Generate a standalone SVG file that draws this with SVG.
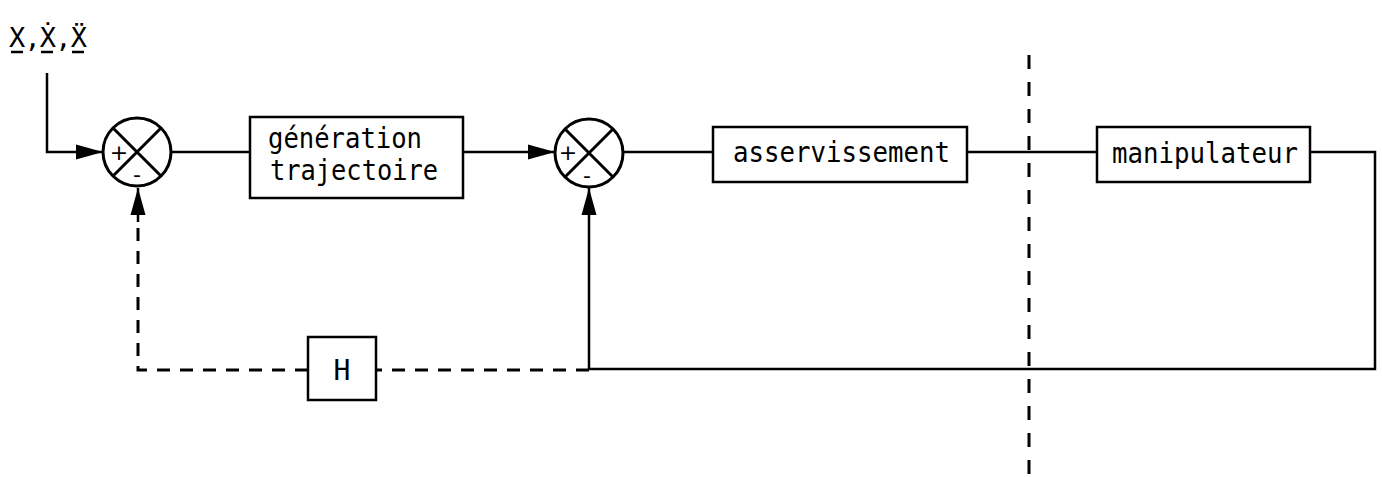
<svg xmlns="http://www.w3.org/2000/svg" width="1382" height="477" viewBox="0 0 1382 477">
<defs>
<marker id="arr" markerUnits="userSpaceOnUse" markerWidth="28" markerHeight="16" refX="27" refY="8" orient="auto">
<path d="M0,0.5 L27,8 L0,15.5 z" fill="#000"/>
</marker>
<style>
.box{fill:#fff;stroke:#000;stroke-width:2.5}
.sum{fill:#fff;stroke:#000;stroke-width:3}
.ln{fill:none;stroke:#000;stroke-width:2.5}
.dash{fill:none;stroke:#000;stroke-width:3;stroke-dasharray:13 10}
.lbl{font-family:"DejaVu Sans Mono","Liberation Mono",monospace;font-size:28px;fill:#000}
.xl{font-family:"DejaVu Sans Mono","Liberation Mono",monospace;font-size:27px;fill:#000}
.sg{font-family:"DejaVu Sans","Liberation Sans",sans-serif;font-size:22px;fill:#000;text-anchor:middle}
</style>
</defs>
<rect width="1382" height="477" fill="#fff"/>
<g id="input-label">
<text class="xl" x="9" y="47" textLength="78" lengthAdjust="spacing">X,Ẋ,Ẍ</text>
<path d="M11,52 H23 M41,52 H53 M72,52 H84" stroke="#000" stroke-width="2.5"/>
</g>
<g id="connectors">
<path class="ln" d="M47,73 V152 H103" marker-end="url(#arr)"/>
<path class="ln" d="M171,152 H250"/>
<path class="ln" d="M463,152 H555" marker-end="url(#arr)"/>
<path class="ln" d="M623,152 H713"/>
<path class="ln" d="M967,152 H1097"/>
<path class="ln" d="M1310,152 H1375 V369 H589 V188" marker-end="url(#arr)"/>
<path class="dash" d="M589,370 H376"/>
<path class="dash" d="M308,370 H138 V219"/>
<path class="ln" d="M138,222 V188" marker-end="url(#arr)"/>
<path class="dash" d="M1029,55 V477" style="stroke-dasharray:14 13"/>
</g>
<g id="sum1">
<circle class="sum" cx="137" cy="152" r="34"/>
<path class="ln" d="M113,128 L161,176 M161,128 L113,176" style="stroke-width:3"/>
<text class="sg" x="119" y="160">+</text>
<text class="sg" x="137" y="182">-</text>
</g>
<g id="generation">
<rect class="box" x="250" y="117" width="213" height="81"/>
<text class="lbl" x="268" y="148" textLength="154" lengthAdjust="spacingAndGlyphs">génération</text>
<text class="lbl" x="270" y="180" textLength="168" lengthAdjust="spacingAndGlyphs">trajectoire</text>
</g>
<g id="sum2">
<circle class="sum" cx="589" cy="153" r="34"/>
<path class="ln" d="M565,129 L613,177 M613,129 L565,177" style="stroke-width:3"/>
<text class="sg" x="568" y="160">+</text>
<text class="sg" x="587" y="183">-</text>
</g>
<g id="asservissement">
<rect class="box" x="713" y="127" width="254" height="55"/>
<text class="lbl" x="733" y="162" textLength="217" lengthAdjust="spacingAndGlyphs">asservissement</text>
</g>
<g id="manipulateur">
<rect class="box" x="1097" y="127" width="213" height="55"/>
<text class="lbl" x="1112" y="163" textLength="186" lengthAdjust="spacingAndGlyphs">manipulateur</text>
</g>
<g id="H">
<rect class="box" x="308" y="337" width="68" height="63"/>
<text class="lbl" x="342" y="380" text-anchor="middle">H</text>
</g>
</svg>
